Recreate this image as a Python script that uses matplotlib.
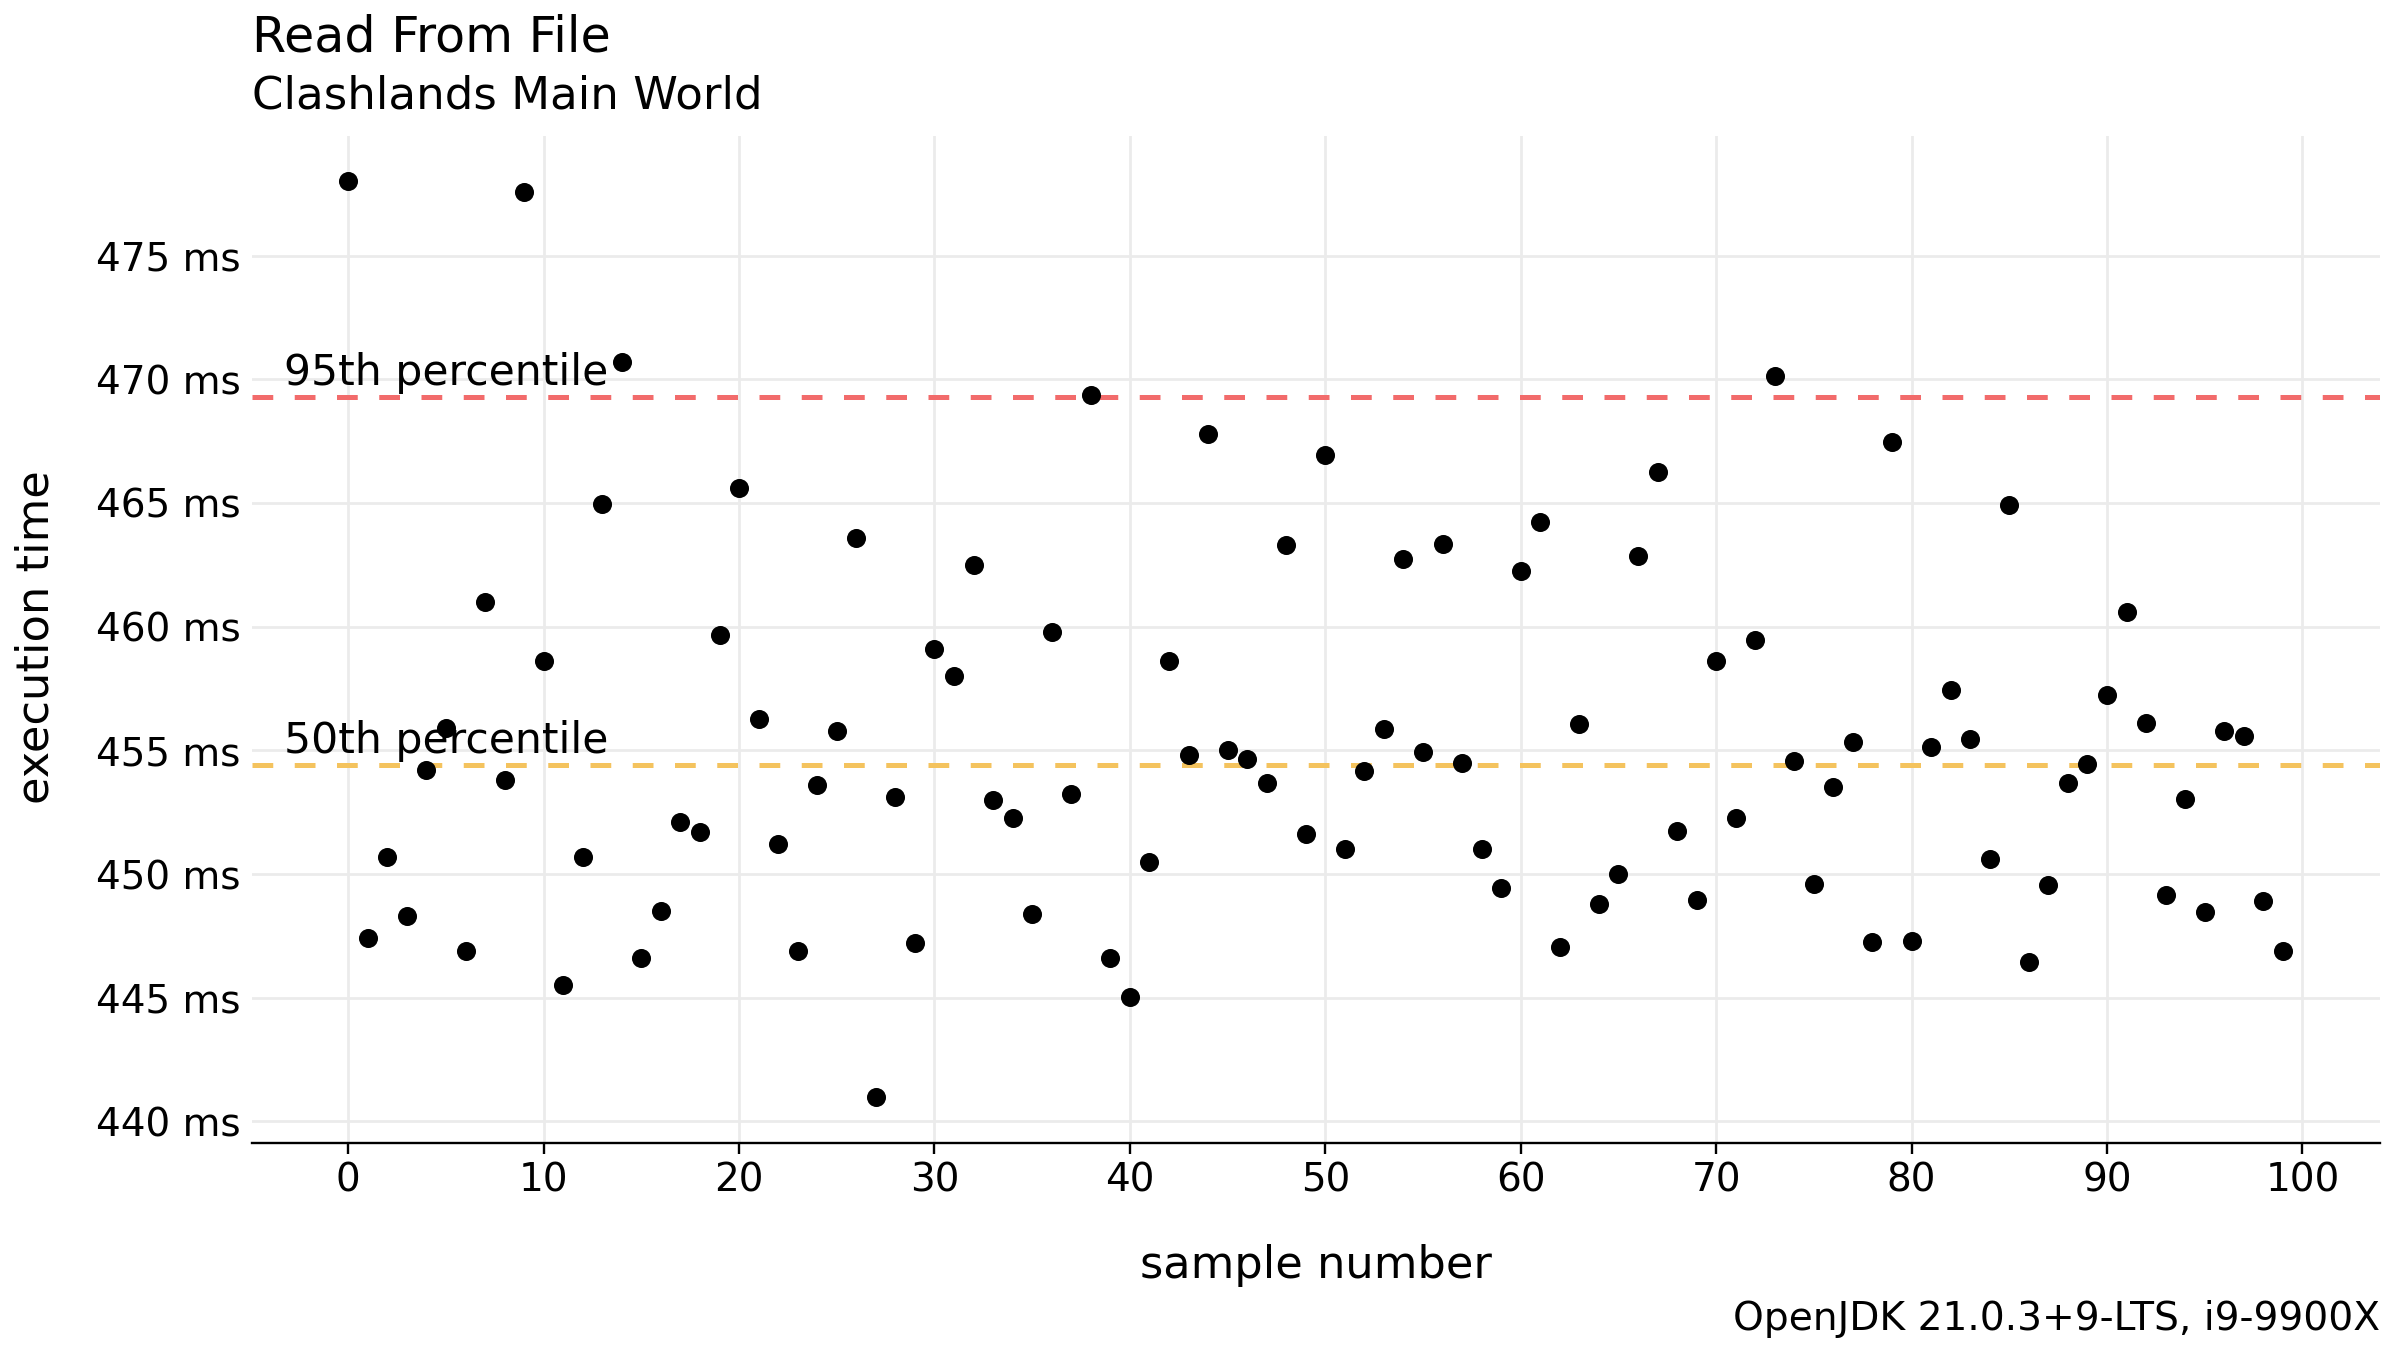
#! /usr/bin/env python3

import numpy as np
import matplotlib
matplotlib.use("Agg")
import matplotlib.pyplot as plt
from matplotlib.ticker import FuncFormatter

# execution time of each sample, ms
samples = np.arange(100)
times = [
    478.0, 447.4, 450.7, 448.3, 454.2, 455.9, 446.9, 461.0, 453.8, 477.55,
    458.6, 445.5, 450.7, 464.95, 470.7, 446.6, 448.5, 452.1, 451.7, 459.65,
    465.6, 456.25, 451.2, 446.9, 453.6, 455.8, 463.6, 441.0, 453.1, 447.2,
    459.1, 458.0, 462.5, 453.0, 452.25, 448.4, 459.8, 453.25, 469.35, 446.6,
    445.05, 450.5, 458.6, 454.8, 467.8, 455.0, 454.65, 453.7, 463.3, 451.6,
    466.95, 451.0, 454.15, 455.85, 462.75, 454.95, 463.35, 454.5, 451.0, 449.45,
    462.25, 464.25, 447.05, 456.05, 448.8, 450.0, 462.85, 466.25, 451.75, 448.95,
    458.6, 452.25, 459.45, 470.15, 454.55, 449.6, 453.5, 455.35, 447.25, 467.45,
    447.3, 455.15, 457.45, 455.45, 450.6, 464.9, 446.45, 449.55, 453.7, 454.45,
    457.25, 460.6, 456.1, 449.15, 453.05, 448.45, 455.8, 455.6, 448.9, 446.9,
]

percentile_labels = ["95th percentile", "50th percentile"]
percentile_values = [469.3, 454.4]
percentile_colors = ["#f26b6b", "#f4c35e"]

xticks = np.arange(0, 101, 10)
yticks = np.arange(440, 476, 5)

plt.rcParams["font.family"] = "DejaVu Sans"

fig = plt.figure(figsize=(12, 6.75), dpi=200)
ax = fig.add_axes([0.1048, 0.1537, 0.8867, 0.7459])

ax.set_axisbelow(True)
ax.grid(True, color="#ebebeb", linewidth=1.0)

ax.scatter(samples, times, s=47, color="black", linewidths=0, zorder=3)

for label, value, color in zip(percentile_labels, percentile_values, percentile_colors):
    ax.axhline(value, color=color, linewidth=1.8, linestyle=(0, (4.15, 4.3)), zorder=2)
    ax.annotate(label, xy=(5, value), xytext=(0, 4.3), textcoords="offset points",
                ha="center", va="baseline", fontsize=15.3, zorder=4)

ax.set_xticks(xticks)
ax.set_yticks(yticks)
ax.yaxis.set_major_formatter(FuncFormatter(lambda v, p: f"{v:.0f} ms"))

for side in ["top", "left", "right"]:
    ax.spines[side].set_visible(False)
ax.spines["bottom"].set_linewidth(0.85)
ax.spines["bottom"].set_color("black")

ax.tick_params(axis="x", length=4, width=0.85, pad=2.9, labelsize=14, color="black")
ax.tick_params(axis="y", length=0, pad=4, labelsize=14)

fig.text(0.5482, 0.0533, "sample number", ha="center", va="baseline", fontsize=16.1)
fig.text(0.0204, 0.5278, "execution time", ha="center", va="baseline",
         rotation=90, rotation_mode="anchor", fontsize=16.1)

fig.text(0.1048, 0.9621, "Read From File", ha="left", va="baseline", fontsize=17.7)
fig.text(0.1048, 0.9198, "Clashlands Main World", ha="left", va="baseline", fontsize=16.25)
fig.text(0.9915, 0.0148, "OpenJDK 21.0.3+9-LTS, i9-9900X", ha="right", va="baseline", fontsize=14.1)

fig.savefig("out.png", dpi=200)
